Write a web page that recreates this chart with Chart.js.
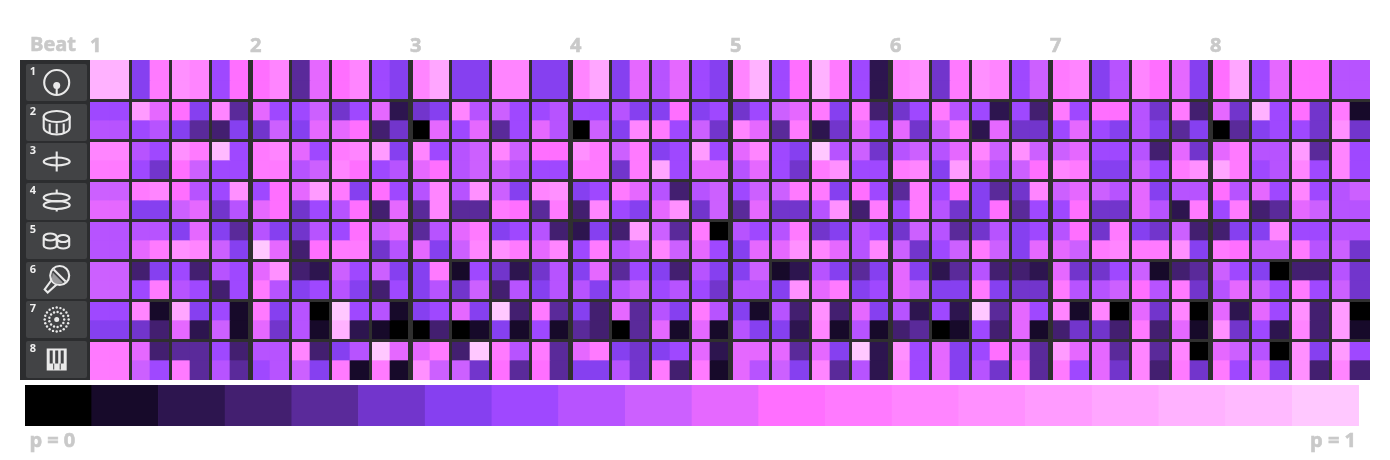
<!DOCTYPE html>
<html>
<head>
<meta charset="utf-8">
<title>Drum pattern probabilities</title>
<script src="https://cdn.jsdelivr.net/npm/chart.js@4/dist/chart.umd.min.js"></script>
<style>
  body { margin: 0; background: #fff; }
  canvas { position: absolute; left: 0; }
  #grid { top: 0; }
  #scale { top: 385px; }
</style>
</head>
<body>
<canvas id="grid" width="1390" height="385"></canvas>
<canvas id="scale" width="1390" height="75"></canvas>
<script>
// colour levels of the scale, p = 0 to p = 1
const palette = ['#000000', '#170a2a', '#2d154f', '#431f70', '#5a2a9a', '#7235cc', '#8640f0', '#9f48ff', '#b753ff', '#cc60ff',
    '#e568ff', '#ff6fff', '#ff7aff', '#ff85ff', '#ff90ff', '#ff9bff', '#ffa6ff', '#ffb2ff', '#ffbaff', '#ffc8ff'];
const beats = ['1', '2', '3', '4', '5', '6', '7', '8'];
const scaleLabels = ['p = 0', 'p = 1'];

const row1 = [17,17,6,12,14,13,7,11,11,13,4,10, 11,13,7,6,13,16,6,6,13,13,6,6, 13,16,6,10,8,10,7,6,13,17,7,11, 17,12,7,2,13,14,5,12,14,13,7,9, 12,13,6,8,13,11,10,6,11,16,7,10, 11,11,8,8];
const row2a = [7,7,15,10,11,6,13,4,10,7,7,9, 5,7,10,2,5,6,13,8,9,7,7,8, 7,7,8,6,6,11,6,7,5,7,9,10, 12,6,12,3,5,7,12,8,7,2,7,3, 12,7,11,11,8,5,12,3,10,5,17,7, 11,5,12,1];
const row2b = [8,8,7,8,6,4,3,6,5,9,6,10, 10,11,3,5,0,10,7,10,4,7,10,8, 0,9,6,13,12,7,9,5,13,10,4,12, 2,5,10,7,10,5,9,12,2,10,5,5, 7,10,7,6,8,6,4,6,0,4,6,7, 7,5,14,5];
const row3a = [13,13,8,7,14,12,18,7,12,13,10,7, 12,13,15,6,13,7,8,9,13,9,11,11, 14,12,9,12,6,7,15,7,10,13,7,6, 19,8,9,5,8,9,8,10,13,9,14,9, 9,10,7,7,8,3,10,5,10,12,8,8, 15,4,13,7];
const row3b = [12,12,7,5,11,9,7,7,12,12,8,9, 13,11,7,8,10,11,8,9,9,8,7,7, 12,12,5,12,16,7,10,10,8,10,7,5, 12,14,7,7,12,13,6,15,10,8,9,11, 13,12,6,6,9,7,12,14,16,12,7,8, 13,7,13,7];
const row4a = [9,9,12,13,11,8,7,14,7,11,10,15, 12,6,11,7,8,13,8,14,9,6,13,14, 6,7,12,10,8,3,8,9,7,9,9,12, 12,6,11,7,4,12,7,11,6,4,5,13, 9,10,9,8,10,6,8,8,11,8,10,7, 13,7,8,9];
const row4b = [10,10,6,6,9,10,5,8,10,11,5,7, 8,11,3,10,4,13,4,4,12,11,4,12, 3,13,7,6,10,14,5,9,4,10,5,5, 8,14,3,12,7,12,8,5,6,11,4,7, 7,11,5,5,10,8,2,12,7,12,3,4, 10,9,8,8];
const row5a = [8,8,8,8,6,10,6,4,8,6,5,8, 7,11,9,10,4,8,10,12,6,7,8,3, 2,6,3,15,9,4,12,0,8,7,8,12, 5,6,8,7,5,9,8,4,5,8,6,7, 8,11,5,12,6,5,9,3,3,6,6,13, 7,7,8,8];
const row5b = [8,8,10,12,14,13,9,6,19,10,3,11, 12,12,5,8,10,6,9,13,14,12,10,13, 7,12,8,9,13,9,10,7,6,10,10,14, 13,10,8,13,9,5,7,9,12,9,6,10, 10,9,12,13,12,12,14,6,12,11,9,9, 12,8,9,5];
const row6a = [9,9,3,6,7,3,8,7,10,14,3,2, 9,7,9,6,6,12,1,7,5,2,5,8, 6,10,4,7,6,3,8,6,6,9,1,2, 8,6,4,6,10,6,2,4,8,3,3,2, 10,5,5,7,9,1,3,4,9,7,6,0, 3,3,8,5];
const row6b = [9,9,7,12,8,7,3,7,12,8,6,7, 8,6,3,7,6,8,5,9,3,8,6,8, 8,6,8,9,7,8,7,5,8,8,6,14, 10,12,6,7,10,9,6,6,12,6,5,5, 12,8,8,9,11,8,12,5,8,10,9,7, 12,7,9,5];
const row7a = [7,7,13,1,16,6,7,1,12,6,8,0, 19,7,8,1,6,7,10,6,19,3,12,4, 6,3,10,4,8,6,12,8,6,1,8,3, 14,3,10,6,8,2,7,2,19,4,10,7, 13,1,13,0,10,5,13,0,10,2,10,7, 14,3,15,0];
const row7b = [6,6,5,3,10,2,9,1,10,5,8,1, 17,2,1,0,0,3,0,1,6,1,7,1, 4,3,0,4,10,1,10,1,8,6,6,2, 13,1,8,1,3,4,0,1,7,3,10,1, 3,5,5,3,12,3,10,1,14,5,7,2, 13,3,15,1];
const row8a = [12,12,10,3,4,4,7,3,8,8,13,3, 6,8,19,10,10,12,3,19,12,8,12,4, 10,12,6,5,6,7,10,2,10,10,10,4, 10,6,19,2,14,7,10,6,7,11,10,4, 15,10,10,4,13,4,13,0,10,9,8,0, 14,6,15,7];
const row8b = [12,12,9,7,12,4,8,4,7,8,9,6, 12,1,12,1,14,9,9,5,11,4,11,4, 6,6,8,5,12,3,12,1,10,8,9,6, 13,4,8,2,13,7,10,6,8,5,11,4, 12,7,10,5,13,3,12,5,12,7,10,6, 14,3,13,3];

const subRows = [row1, row1, row2a, row2b, row3a, row3b, row4a, row4b, row5a, row5b, row6a, row6b, row7a, row7b, row8a, row8b];
const levels = palette.map((c, i) => i);

const panelColor = '#2c2d2f';
const lineColor = '#2f2f2f';
const tileColor = '#424345';
const iconColor = '#e9e9e9';
const labelColor = '#c9c9c9';
const labelFont = 'bold 20px "Open Sans"';

// drum icons, drawn around the middle of each tile
const drumIcons = [
    ctx => {
        ctx.beginPath(); ctx.arc(0, 0, 12.5, 0, Math.PI * 2); ctx.stroke();
        ctx.beginPath(); ctx.arc(0, 3, 3.5, 0, Math.PI * 2); ctx.fill();
        ctx.beginPath(); ctx.moveTo(0, 3); ctx.lineTo(0, 12); ctx.stroke();
    },
    ctx => {
        ctx.beginPath(); ctx.ellipse(0, -6, 13, 5.5, 0, 0, Math.PI * 2); ctx.stroke();
        ctx.beginPath(); ctx.moveTo(-13, -6); ctx.lineTo(-13, 5); ctx.ellipse(0, 5, 13, 7, 0, Math.PI, 0, true); ctx.lineTo(13, -6); ctx.stroke();
        ctx.beginPath();
        [-7, 0, 7].forEach(x => { ctx.moveTo(x, 1); ctx.lineTo(x, 11); });
        ctx.stroke();
    },
    ctx => {
        ctx.beginPath(); ctx.ellipse(0, 0, 13, 4, 0, 0, Math.PI * 2); ctx.stroke();
        ctx.beginPath(); ctx.moveTo(0, -10); ctx.lineTo(0, 10); ctx.stroke();
    },
    ctx => {
        ctx.beginPath(); ctx.ellipse(0, -4, 13, 4, 0, 0, Math.PI * 2); ctx.stroke();
        ctx.beginPath(); ctx.ellipse(0, 3.5, 13, 4, 0, 0, Math.PI * 2); ctx.stroke();
        ctx.beginPath(); ctx.moveTo(0, -12); ctx.lineTo(0, -8); ctx.moveTo(0, 7.5); ctx.lineTo(0, 10); ctx.stroke();
    },
    ctx => {
        [[6.5, 6, -2], [-6.5, 6.5, -3.5]].forEach(([x, r, top]) => {
            ctx.fillStyle = tileColor;
            ctx.beginPath();
            ctx.moveTo(x - r, top); ctx.lineTo(x - r, 5); ctx.ellipse(x, 5, r, 3, 0, Math.PI, 0, true); ctx.lineTo(x + r, top);
            ctx.ellipse(x, top, r, 3.5, 0, 0, Math.PI * 2);
            ctx.fill();
            ctx.stroke();
        });
    },
    ctx => {
        ctx.beginPath(); ctx.arc(3, -5, 9.5, 0, Math.PI * 2); ctx.stroke();
        ctx.beginPath(); ctx.moveTo(-4, -2); ctx.lineTo(-12, 9); ctx.lineTo(-9, 12); ctx.lineTo(1, 3); ctx.stroke();
        ctx.beginPath(); ctx.moveTo(-3, -11); ctx.lineTo(9, 1); ctx.stroke();
        ctx.fillStyle = '#9a9a9c';
        ctx.beginPath(); ctx.moveTo(-4, -8); ctx.lineTo(7, 3); ctx.arc(1.5, -3, 6.5, 0.8, 2.9); ctx.fill();
    },
    ctx => {
        [[12, 20], [7.5, 13]].forEach(([r, n]) => {
            for (let i = 0; i < n; i++) {
                const a = i / n * Math.PI * 2;
                ctx.beginPath(); ctx.arc(Math.cos(a) * r, Math.sin(a) * r, 1.2, 0, Math.PI * 2); ctx.fill();
            }
        });
        ctx.beginPath(); ctx.arc(0, 0, 2.5, 0, Math.PI * 2); ctx.fill();
    },
    ctx => {
        ctx.fillRect(-10, -11, 20, 22);
        ctx.fillStyle = tileColor;
        [-7, -1.5, 4].forEach(x => ctx.fillRect(x, -9, 3, 13));
        [-3.5, 3].forEach(x => ctx.fillRect(x, 4, 1, 6));
    },
];

// dark panel on the left with a tile, a number and an icon per drum
const drumPanel = {
    id: 'drumPanel',
    afterDraw(chart) {
        const ctx = chart.ctx;
        const area = chart.chartArea;
        const y = chart.scales.y;
        ctx.save();
        ctx.fillStyle = panelColor;
        ctx.fillRect(20, area.top, area.left - 20, area.bottom - area.top);
        beats.forEach((b, i) => {
            const top = y.getPixelForValue(i * 2);
            const tileTop = Math.round(top + 4 - i * 0.5);
            ctx.fillStyle = tileColor;
            ctx.beginPath();
            ctx.roundRect(26, tileTop, 61, 37, 2);
            ctx.fill();
            ctx.fillStyle = '#f0f0f0';
            ctx.font = 'bold 11px "Open Sans"';
            ctx.textAlign = 'center';
            ctx.textBaseline = 'middle';
            ctx.fillText(b, 33, tileTop + 8);
            ctx.save();
            ctx.translate(56.7, tileTop + 18.5);
            ctx.strokeStyle = iconColor;
            ctx.fillStyle = iconColor;
            ctx.lineWidth = 2.1;
            drumIcons[i](ctx);
            ctx.restore();
        });
        ctx.fillStyle = labelColor;
        ctx.strokeStyle = labelColor;
        ctx.lineWidth = 0.6;
        ctx.font = labelFont;
        ctx.textAlign = 'left';
        ctx.textBaseline = 'middle';
        ctx.fillText('Beat', 30, 45);
        ctx.strokeText('Beat', 30, 45);
        ctx.restore();
    }
};

// grid lines sit above the cells, wider on every beat
const lineWidthFor = (last, beatStep, beatWidth) => c => {
    if (!c.tick || c.tick.value === 0 || c.tick.value === last) return 0;
    return c.tick.value % beatStep === 0 ? beatWidth : 3;
};

const gridChart = new Chart(document.getElementById('grid'), {
    type: 'bar',
    data: {
        datasets: subRows.map(row => ({
            data: row.map((level, col) => ({ x: col + 0.5, y: 1 })),
            backgroundColor: row.map(level => palette[level]),
            barPercentage: 1,
            categoryPercentage: 1,
            borderWidth: 0,
        }))
    },
    options: {
        responsive: false,
        animation: false,
        layout: { padding: { left: 90, right: 20, top: 30, bottom: 5 } },
        plugins: { legend: { display: false }, tooltip: { enabled: false } },
        scales: {
            x: {
                type: 'linear',
                position: 'top',
                stacked: true,
                offset: false,
                min: 0,
                max: 64,
                afterFit: scale => { scale.height = 30 },
                border: { display: false },
                grid: {
                    offset: false,
                    z: 1,
                    drawTicks: false,
                    color: lineColor,
                    lineWidth: lineWidthFor(64, 8, 5),
                },
                ticks: {
                    stepSize: 2,
                    autoSkip: false,
                    maxRotation: 0,
                    align: 'start',
                    padding: 2,
                    color: labelColor,
                    textStrokeColor: labelColor,
                    textStrokeWidth: 0.6,
                    font: { family: 'Open Sans', size: 20, weight: 'bold' },
                    callback: v => (v % 8 === 0 && v < 64) ? beats[v / 8] : '',
                },
            },
            y: {
                reverse: true,
                stacked: true,
                min: 0,
                max: 16,
                afterFit: scale => { scale.width = 0 },
                border: { display: false },
                grid: {
                    z: 1,
                    drawTicks: false,
                    color: lineColor,
                    lineWidth: lineWidthFor(16, 2, 3),
                },
                ticks: { display: false, stepSize: 2 },
            },
        },
    },
    plugins: [drumPanel],
});

const scaleChart = new Chart(document.getElementById('scale'), {
    type: 'bar',
    data: {
        datasets: [{
            data: levels.map(level => ({ x: level + 0.5, y: 1 })),
            backgroundColor: palette,
            barPercentage: 1.01,
            categoryPercentage: 1,
            borderWidth: 0,
        }]
    },
    options: {
        responsive: false,
        animation: false,
        layout: { padding: { left: 25, right: 31, top: 0, bottom: 0 } },
        plugins: { legend: { display: false }, tooltip: { enabled: false } },
        scales: {
            x: {
                type: 'linear',
                offset: false,
                min: 0,
                max: levels.length,
                afterBuildTicks: scale => { scale.ticks = [{ value: 0.41 }, { value: 19.61 }] },
                afterFit: scale => { scale.height = 34 },
                border: { display: false },
                grid: { display: false, offset: false },
                ticks: {
                    autoSkip: false,
                    maxRotation: 0,
                    padding: -5,
                    color: labelColor,
                    textStrokeColor: labelColor,
                    textStrokeWidth: 0.6,
                    font: { family: 'Open Sans', size: 20, weight: 'bold' },
                    callback: (v, i) => scaleLabels[i],
                },
            },
            y: {
                display: false,
                min: 0,
                max: 1,
            },
        },
    },
});
</script>
</body>
</html>
